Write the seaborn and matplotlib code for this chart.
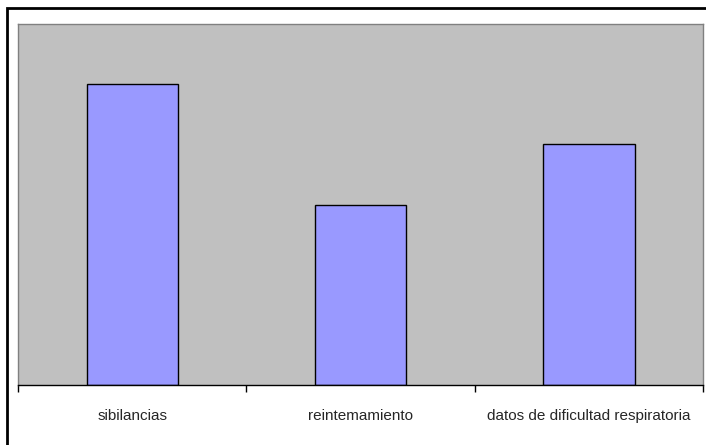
import matplotlib
matplotlib.use("Agg")
import matplotlib.pyplot as plt
from matplotlib.patches import Rectangle
import seaborn as sns
import pandas as pd

categories = ["sibilancias", "reintemamiento", "datos de dificultad respiratoria"]
values = [10, 6, 8]

sns.set_style("white")
plt.rcParams["font.family"] = ["Liberation Sans", "DejaVu Sans"]

W, H = 706, 445
fig = plt.figure(figsize=(W / 100, H / 100), dpi=100)
fig.patch.set_facecolor("white")

# outer frame of the chart area
fig.patches.append(Rectangle((7 / W, -0.1), 1.2, 1 - 8 / H + 0.1,
                             transform=fig.transFigure, fill=False,
                             edgecolor="black", linewidth=2, zorder=10))

ax = fig.add_axes([18 / W, 1 - 385 / H, (703 - 18) / W, (385 - 24) / H])
ax.set_facecolor("#C0C0C0")

df = pd.DataFrame({"categoria": categories, "valor": values})
sns.barplot(data=df, x="categoria", y="valor", ax=ax, color="#9999FF",
            saturation=1, width=0.4, edgecolor="black", linewidth=1)

ax.set_xlim(-0.5, 2.5)
ax.set_ylim(0, 12)
ax.set_yticks([])
ax.set_xlabel("")
ax.set_ylabel("")

ax.set_xticks([0, 1, 2])
ax.set_xticklabels(categories, fontsize=11)
ax.set_xticks([-0.5, 0.5, 1.5, 2.5], minor=True)
ax.tick_params(axis="x", which="major", length=0, pad=17)
ax.tick_params(axis="x", which="minor", length=5, width=1, color="black",
               direction="out", bottom=True)

for side in ("top", "right", "left"):
    ax.spines[side].set_color("#808080")
    ax.spines[side].set_linewidth(1)
    ax.spines[side].set_visible(True)
ax.spines["bottom"].set_color("black")
ax.spines["bottom"].set_linewidth(1)

fig.savefig("out.png", dpi=100)
